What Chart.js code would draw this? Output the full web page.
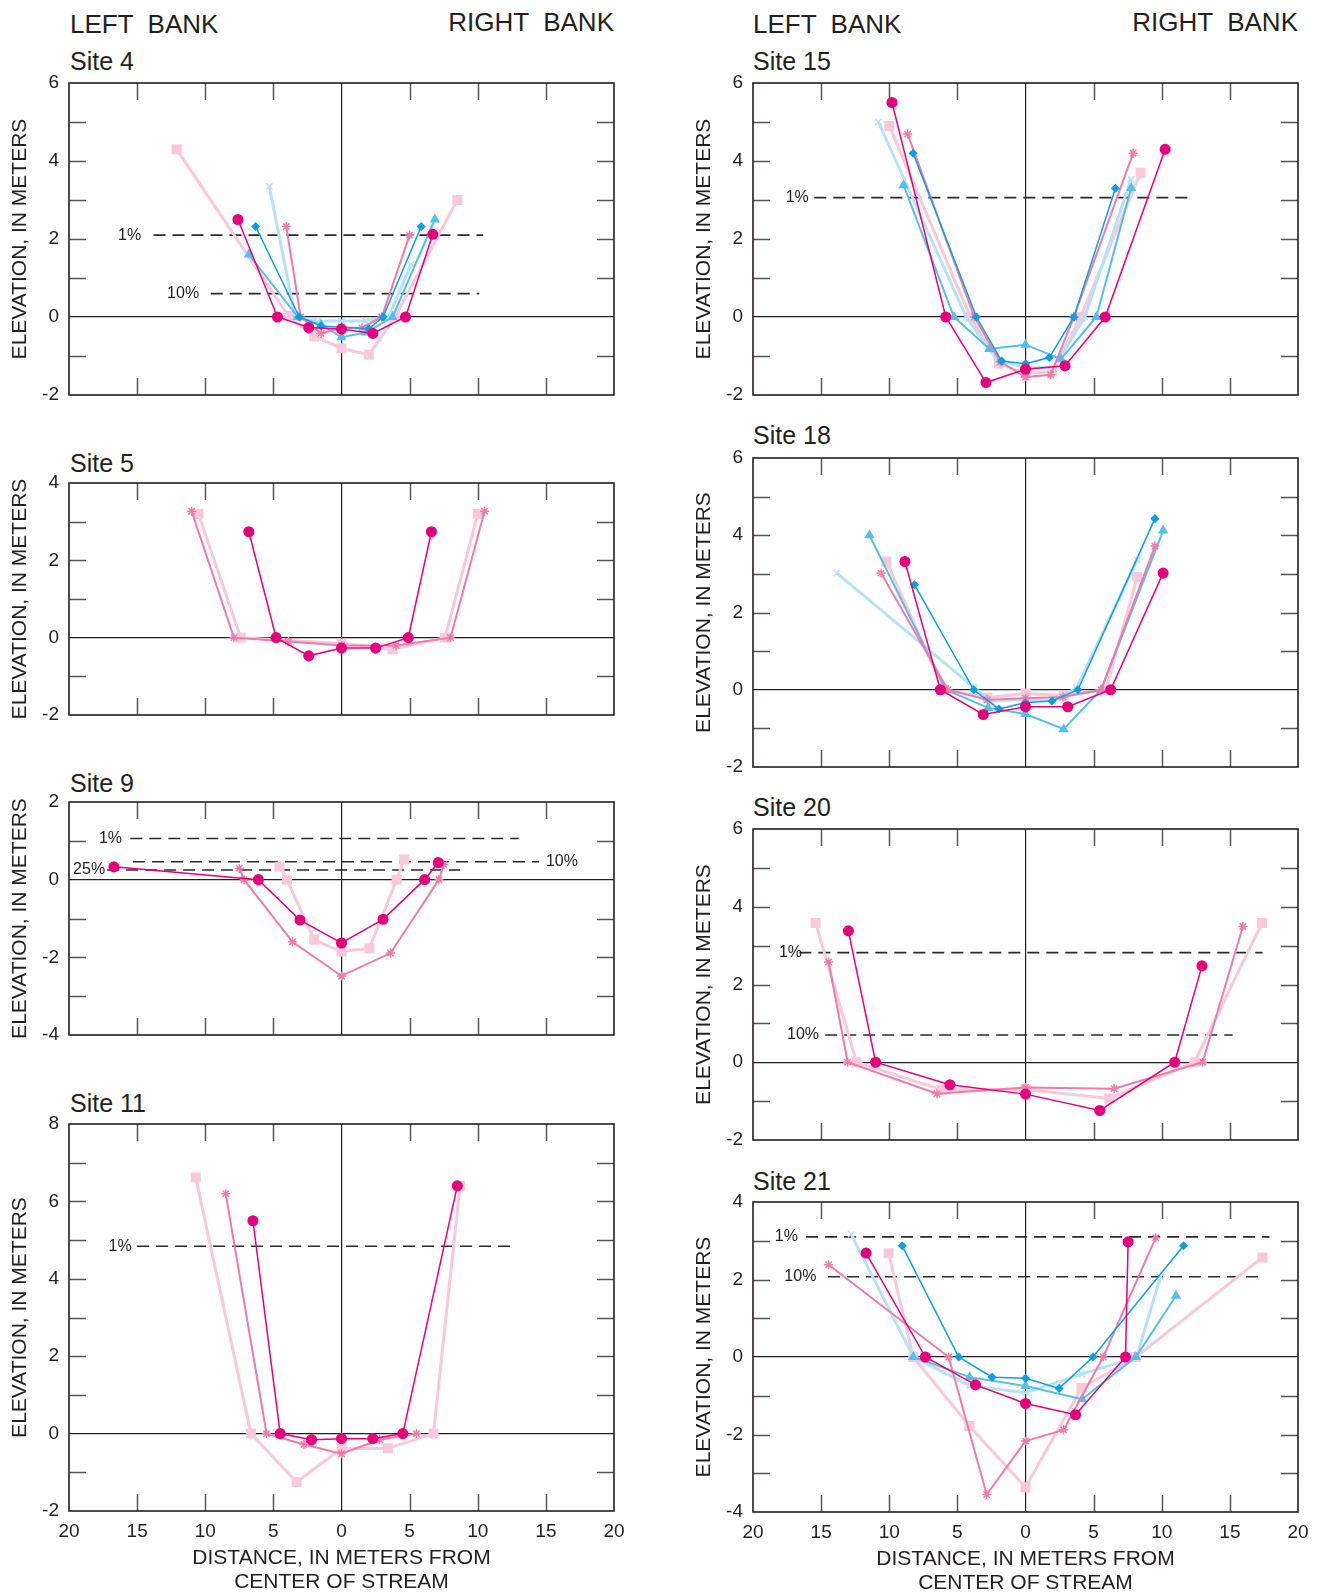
<!DOCTYPE html>
<html>
<head>
<meta charset="utf-8">
<title>Stream cross sections</title>
<script src="https://cdn.jsdelivr.net/npm/chart.js@4.4.1/dist/chart.umd.min.js"></script>
<style>
  html, body { margin: 0; padding: 0; background: #fff; width: 1322px; height: 1595px; overflow: hidden; }
  body { position: relative; font-family: "Liberation Sans", Arial, sans-serif; color: #231f20; }
  canvas { position: absolute; }
  .lbl { position: absolute; white-space: pre; line-height: 1; }
  .bank { font-size: 26px; }
  .site { font-size: 25px; }
</style>
</head>
<body>
<div class="lbl bank" style="left:70px;top:11px">LEFT  BANK</div>
<div class="lbl bank" style="right:708px;top:9px">RIGHT  BANK</div>
<div class="lbl bank" style="left:753px;top:11px">LEFT  BANK</div>
<div class="lbl bank" style="right:24px;top:9px">RIGHT  BANK</div>

<div class="lbl site" style="left:70px;top:49px">Site 4</div>
<div class="lbl site" style="left:70px;top:451px">Site 5</div>
<div class="lbl site" style="left:70px;top:771px">Site 9</div>
<div class="lbl site" style="left:70px;top:1091px">Site 11</div>
<div class="lbl site" style="left:753px;top:49px">Site 15</div>
<div class="lbl site" style="left:753px;top:423px">Site 18</div>
<div class="lbl site" style="left:753px;top:795px">Site 20</div>
<div class="lbl site" style="left:753px;top:1169px">Site 21</div>

<script>
// distance from center of stream (m, left bank negative), elevation (m)
const xTickValues = [-20, -15, -10, -5, 0, 5, 10, 15, 20];

const site4Magenta  = [[-7.6, 2.5], [-4.7, 0], [-2.4, -0.27], [0, -0.31], [2.3, -0.42], [4.7, 0], [6.7, 2.12]];
const site4Asterisk = [[-4.05, 2.32], [-3.0, 0], [-1.5, -0.42], [0, -0.27], [1.5, -0.28], [2.95, 0], [5.0, 2.1]];
const site4Square   = [[-12.1, 4.3], [-3.9, 0.03], [-2.0, -0.5], [0, -0.8], [2.0, -0.97], [3.95, 0.02], [8.5, 3.0]];
const site4Diamond  = [[-6.3, 2.32], [-3.1, 0], [-1.5, -0.23], [0, -0.26], [2.0, -0.3], [3.05, 0], [5.85, 2.32]];
const site4Triangle = [[-6.8, 1.6], [-3.2, 0], [-1.5, -0.2], [0, -0.52], [1.8, -0.4], [3.75, 0], [6.85, 2.5]];
const site4Wye      = [[-5.3, 3.35], [-3.4, 0], [-1.75, -0.1], [0, -0.1], [1.75, -0.1], [3.45, 0], [5.1, 1.35]];
const site4Levels   = [['1%', 2.1, -13.8, 10.4, -16.4], ['10%', 0.6, -9.6, 10.1, -12.8]];

const site5Magenta  = [[-6.8, 2.74], [-4.8, 0], [-2.4, -0.47], [0, -0.27], [2.5, -0.27], [4.9, 0], [6.6, 2.74]];
const site5Asterisk = [[-11.0, 3.27], [-7.9, 0], [-3.9, -0.1], [0, -0.2], [4.0, -0.2], [8.0, 0], [10.5, 3.27]];
const site5Square   = [[-10.5, 3.2], [-7.4, 0], [0, -0.15], [3.75, -0.3], [7.6, 0], [10.0, 3.2]];

const site9Magenta  = [[-16.7, 0.33], [-6.1, 0], [-3.05, -1.04], [0, -1.63], [3.05, -1.02], [6.1, 0], [7.1, 0.44]];
const site9Asterisk = [[-7.5, 0.29], [-7.15, 0], [-3.6, -1.6], [0, -2.48], [3.6, -1.89], [7.15, 0], [7.5, 0.39]];
const site9Square   = [[-4.55, 0.33], [-4.0, 0], [-2.0, -1.55], [0, -1.85], [2.05, -1.77], [4.05, 0], [4.6, 0.52]];
const site9Levels   = [['1%', 1.06, -15.5, 13.0, -17.8], ['10%', 0.46, -15.3, 14.5, 15.0], ['25%', 0.25, -17.2, 8.7, -19.7]];

const site11Magenta  = [[-6.5, 5.5], [-4.5, 0], [-2.2, -0.16], [0, -0.13], [2.3, -0.13], [4.5, 0], [8.5, 6.4]];
const site11Asterisk = [[-8.5, 6.2], [-5.5, 0], [-2.75, -0.28], [0, -0.52], [2.8, -0.16], [5.5, 0]];
const site11Square   = [[-10.7, 6.62], [-6.65, 0], [-3.3, -1.25], [0, -0.39], [3.4, -0.38], [6.75, 0], [8.7, 6.4]];
const site11Levels   = [['1%', 4.84, -15.0, 12.5, -17.1]];

const site15Magenta  = [[-9.8, 5.5], [-5.85, 0], [-2.9, -1.68], [0, -1.34], [2.9, -1.25], [5.85, 0], [10.25, 4.3]];
const site15Asterisk = [[-8.65, 4.69], [-3.75, 0], [-1.85, -1.15], [0, -1.54], [1.85, -1.48], [3.55, 0], [7.9, 4.2]];
const site15Square   = [[-10.0, 4.9], [-4.05, 0], [-1.95, -1.19], [0, -1.45], [1.95, -1.4], [4.05, 0], [8.45, 3.7]];
const site15Diamond  = [[-8.25, 4.2], [-3.6, 0], [-1.75, -1.13], [0, -1.2], [1.75, -1.04], [3.55, 0], [6.6, 3.3]];
const site15Triangle = [[-8.95, 3.38], [-5.25, 0], [-2.65, -0.82], [0, -0.71], [2.6, -1.08], [5.2, 0], [7.75, 3.31]];
const site15Wye      = [[-10.8, 5.0], [-4.35, 0], [-2.1, -1.1], [0, -1.3], [2.1, -1.3], [4.35, 0], [7.75, 3.53]];
const site15Levels   = [['1%', 3.06, -15.5, 11.9, -17.6]];

const site18Magenta  = [[-8.85, 3.32], [-6.25, 0], [-3.1, -0.64], [0, -0.44], [3.1, -0.44], [6.25, 0], [10.1, 3.02]];
const site18Asterisk = [[-10.6, 3.02], [-5.7, 0], [-2.8, -0.26], [0, -0.22], [2.75, -0.19], [5.55, 0], [9.5, 3.72]];
const site18Square   = [[-10.2, 3.32], [-6.0, 0], [-2.8, -0.2], [0, -0.1], [2.8, -0.15], [5.9, 0], [8.2, 2.92]];
const site18Diamond  = [[-8.15, 2.72], [-3.8, 0], [-1.95, -0.5], [0, -0.33], [1.95, -0.29], [3.85, 0], [9.5, 4.43]];
const site18Triangle = [[-11.45, 4.0], [-5.85, 0], [-2.75, -0.47], [0, -0.63], [2.8, -1.02], [5.55, 0], [10.1, 4.12]];
const site18Wye      = [[-13.85, 3.02], [-3.75, 0.05], [-2.5, -0.3], [0, -0.24], [2.0, -0.3], [3.75, 0.05], [8.2, 3.36]];

const site20Magenta  = [[-13.0, 3.38], [-11.0, 0], [-5.55, -0.58], [0, -0.82], [5.45, -1.24], [10.95, 0], [12.95, 2.48]];
const site20Asterisk = [[-14.45, 2.58], [-13.05, 0], [-6.5, -0.81], [0, -0.65], [6.5, -0.68], [13.0, 0], [15.95, 3.49]];
const site20Square   = [[-15.4, 3.58], [-12.4, 0], [-6.15, -0.71], [0, -0.7], [6.15, -0.93], [12.4, 0], [17.35, 3.58]];
const site20Levels   = [['1%', 2.82, -16.6, 17.4, -18.1], ['10%', 0.7, -14.7, 15.2, -17.5]];

const site21Magenta  = [[-11.7, 2.68], [-7.35, 0], [-3.67, -0.72], [0, -1.2], [3.67, -1.49], [7.34, 0], [7.53, 2.97]];
const site21Asterisk = [[-14.45, 2.38], [-5.64, 0], [-2.85, -3.55], [0, -2.17], [2.8, -1.88], [5.7, 0], [9.56, 3.08]];
const site21Square   = [[-10.05, 2.68], [-8.24, 0], [-4.12, -1.78], [0, -3.36], [4.11, -0.8], [8.1, 0], [17.4, 2.57]];
const site21Diamond  = [[-9.05, 2.87], [-4.9, 0], [-2.45, -0.52], [0, -0.55], [2.47, -0.81], [4.95, 0], [11.6, 2.87]];
const site21Triangle = [[-8.24, 0], [-4.1, -0.52], [0, -0.75], [4.15, -1.09], [8.1, 0], [11.05, 1.58]];
const site21Wye      = [[-12.8, 3.17], [-8.24, 0], [-4.1, -0.74], [0, -0.92], [4.15, -0.44], [8.15, 0], [9.9, 2.06]];
const site21Levels   = [['1%', 3.1, -16.1, 17.9, -18.4], ['10%', 2.07, -14.5, 17.3, -17.7]];

const FONT = '"Liberation Sans", Arial, sans-serif';
const INK = '#231f20';

const styles = {
  magenta:  { color: '#E4007C', width: 1.5, point: 'circle',   r: 4.8, order: 0 },
  diamond:  { color: '#0AA0E0', width: 1.5, point: 'rectRot',  r: 3.5, order: 1 },
  asterisk: { color: '#EF7BAA', width: 2,   point: 'star',     r: 4.5, order: 2 },
  triangle: { color: '#55BFEA', width: 2,   point: 'triangle', r: 4.5, order: 3 },
  wye:      { color: '#B8E1F5', width: 3,   point: 'crossRot', r: 4.5, order: 4 },
  square:   { color: '#F9C8DA', width: 3,   point: 'rect',     r: 6,   order: 5 }
};

const panels = [
  { left: 0,   top: 83,   h: 312, ymin: -2, ymax: 6, bottom: false, levels: site4Levels,
    series: { magenta: site4Magenta, asterisk: site4Asterisk, square: site4Square, diamond: site4Diamond, triangle: site4Triangle, wye: site4Wye } },
  { left: 0,   top: 483,  h: 232, ymin: -2, ymax: 4, bottom: false, levels: [],
    series: { magenta: site5Magenta, asterisk: site5Asterisk, square: site5Square } },
  { left: 0,   top: 802,  h: 233, ymin: -4, ymax: 2, bottom: false, levels: site9Levels,
    series: { magenta: site9Magenta, asterisk: site9Asterisk, square: site9Square } },
  { left: 0,   top: 1124, h: 387, ymin: -2, ymax: 8, bottom: true, levels: site11Levels,
    series: { magenta: site11Magenta, asterisk: site11Asterisk, square: site11Square } },
  { left: 684, top: 83,   h: 312, ymin: -2, ymax: 6, bottom: false, levels: site15Levels,
    series: { magenta: site15Magenta, asterisk: site15Asterisk, square: site15Square, diamond: site15Diamond, triangle: site15Triangle, wye: site15Wye } },
  { left: 684, top: 458,  h: 309, ymin: -2, ymax: 6, bottom: false, levels: [],
    series: { magenta: site18Magenta, asterisk: site18Asterisk, square: site18Square, diamond: site18Diamond, triangle: site18Triangle, wye: site18Wye } },
  { left: 684, top: 829,  h: 311, ymin: -2, ymax: 6, bottom: false, levels: site20Levels,
    series: { magenta: site20Magenta, asterisk: site20Asterisk, square: site20Square } },
  { left: 684, top: 1202, h: 310, ymin: -4, ymax: 4, bottom: true, levels: site21Levels,
    series: { magenta: site21Magenta, asterisk: site21Asterisk, square: site21Square, diamond: site21Diamond, triangle: site21Triangle, wye: site21Wye } }
];

// inner tick marks, frame and labels of the flood-level lines
const frameTicks = {
  id: 'frameTicks',
  afterDraw(chart) {
    const { ctx, chartArea: a, scales: { x, y } } = chart;
    const len = 17;
    ctx.save();
    ctx.strokeStyle = '#555';
    ctx.lineWidth = 1.5;
    ctx.beginPath();
    xTickValues.forEach(v => {
      if (v === 0 || v === x.min || v === x.max) return;
      const px = Math.round(x.getPixelForValue(v)) + 0.5;
      ctx.moveTo(px, a.top); ctx.lineTo(px, a.top + len);
      ctx.moveTo(px, a.bottom); ctx.lineTo(px, a.bottom - len);
    });
    for (let v = y.min + 1; v < y.max; v++) {
      if (v === 0) continue;
      const py = Math.round(y.getPixelForValue(v)) + 0.5;
      ctx.moveTo(a.left, py); ctx.lineTo(a.left + len, py);
      ctx.moveTo(a.right, py); ctx.lineTo(a.right - len, py);
    }
    ctx.stroke();

    ctx.strokeStyle = INK;
    ctx.lineWidth = 1.6;
    ctx.strokeRect(a.left, a.top, a.right - a.left, a.bottom - a.top);

    const levels = chart.options.plugins.frameTicks.levels || [];
    ctx.fillStyle = INK;
    ctx.font = '16px ' + FONT;
    ctx.textAlign = 'left';
    ctx.textBaseline = 'middle';
    levels.forEach(([label, level, , , labelX]) => {
      ctx.fillText(label, x.getPixelForValue(labelX), y.getPixelForValue(level));
    });
    ctx.restore();
  }
};

const zeroLine = c => (c.tick && c.tick.value === 0) ? INK : 'rgba(0,0,0,0)';

panels.forEach(p => {
  const padTop = 24, padRight = 24, yW = 69;
  const xH = p.bottom ? 84 : 24;
  const canvas = document.createElement('canvas');
  const w = yW + 545 + padRight;
  const hgt = padTop + p.h + xH;
  canvas.width = w; canvas.height = hgt;
  canvas.style.left = p.left + 'px';
  canvas.style.top = (p.top - padTop) + 'px';
  canvas.style.width = w + 'px';
  canvas.style.height = hgt + 'px';
  document.body.appendChild(canvas);

  const datasets = [];
  Object.entries(p.series).forEach(([key, pts]) => {
    const s = styles[key];
    datasets.push({
      data: pts.map(([x, y]) => ({ x, y })),
      borderColor: s.color,
      backgroundColor: s.color,
      borderWidth: s.width,
      pointStyle: s.point,
      pointRadius: s.r,
      pointBackgroundColor: s.color,
      pointBorderColor: s.color,
      pointBorderWidth: 1.5,
      order: s.order
    });
  });
  p.levels.forEach(([label, level, from, to]) => {
    datasets.push({
      data: [{ x: from, y: level }, { x: to, y: level }],
      borderColor: '#2a2a2a',
      borderWidth: 1.6,
      borderDash: [12, 7],
      pointRadius: 0,
      order: 10
    });
  });

  new Chart(canvas.getContext('2d'), {
    type: 'line',
    data: { datasets },
    plugins: [frameTicks],
    options: {
      responsive: false,
      animation: false,
      events: [],
      layout: { padding: { top: padTop, right: padRight, left: 0, bottom: 0 } },
      elements: { line: { tension: 0 } },
      plugins: {
        legend: { display: false },
        tooltip: { enabled: false },
        frameTicks: { levels: p.levels }
      },
      scales: {
        x: {
          type: 'linear', min: -20, max: 20,
          afterBuildTicks: s => { s.ticks = xTickValues.map(v => ({ value: v })); },
          afterFit: s => { s.height = xH; },
          border: { display: false },
          grid: { drawTicks: false, color: zeroLine, lineWidth: 1.2 },
          ticks: {
            display: p.bottom, padding: 9, maxRotation: 0, autoSkip: false,
            color: INK, font: { size: 19, family: FONT },
            callback: v => String(Math.abs(v))
          },
          title: {
            display: p.bottom,
            text: ['DISTANCE, IN METERS FROM', 'CENTER OF STREAM'],
            color: INK,
            font: { size: 21, family: FONT, lineHeight: 1.15 },
            padding: { top: 0, bottom: 1 }
          }
        },
        y: {
          type: 'linear', min: p.ymin, max: p.ymax,
          afterFit: s => { s.width = yW; },
          border: { display: false },
          grid: { drawTicks: false, color: zeroLine, lineWidth: 1.2 },
          ticks: {
            stepSize: 1, padding: 10, autoSkip: false,
            color: INK, font: { size: 19, family: FONT },
            callback: v => (v % 2 === 0 ? String(v) : '')
          },
          title: {
            display: true,
            text: 'ELEVATION, IN METERS',
            color: INK,
            font: { size: 21, family: FONT },
            padding: { top: 8, bottom: 0 }
          }
        }
      }
    }
  });
});
</script>
</body>
</html>
